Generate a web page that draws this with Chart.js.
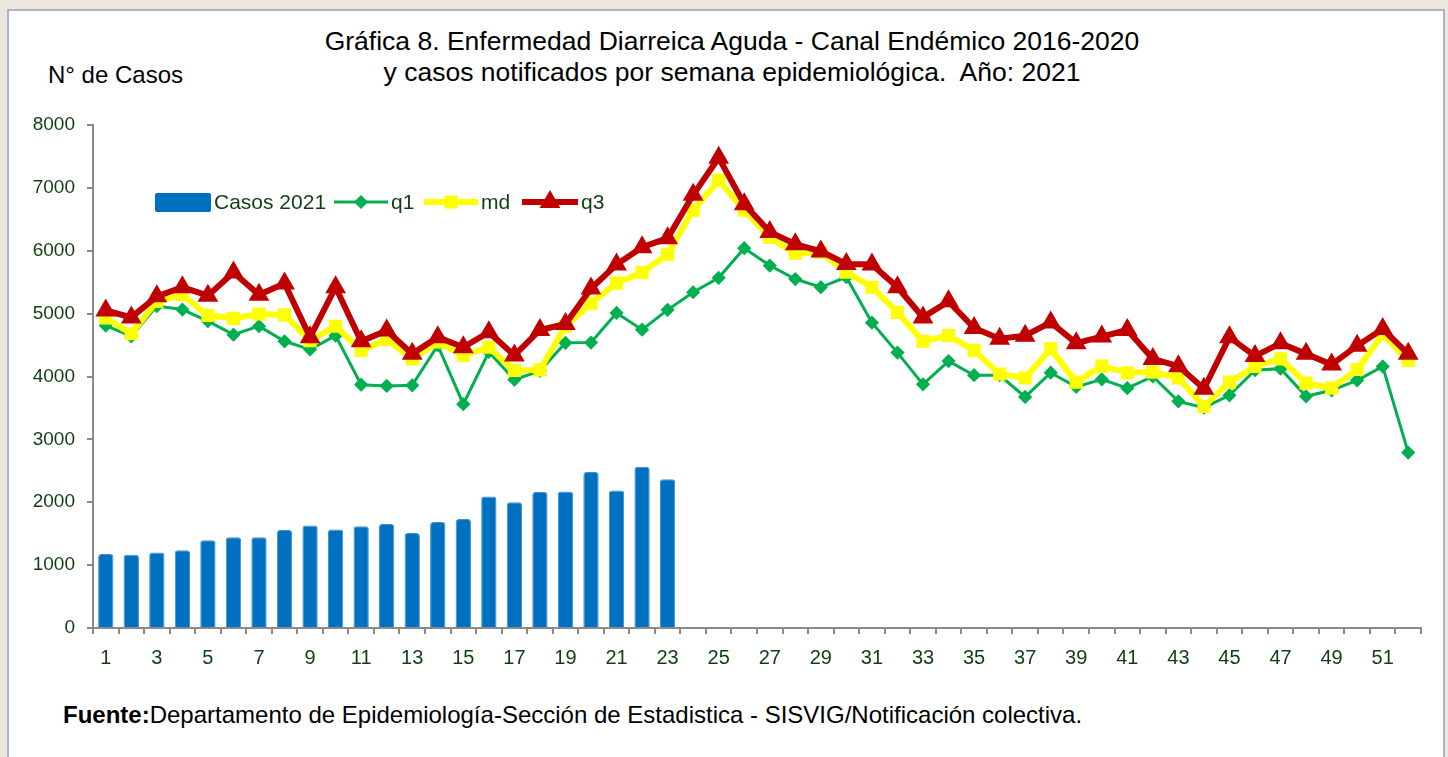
<!DOCTYPE html>
<html>
<head>
<meta charset="utf-8">
<script src="https://cdn.jsdelivr.net/npm/chart.js@4/dist/chart.umd.min.js"></script>
<style>
  body { margin: 0; background: #ebe7de; width: 1448px; height: 757px; overflow: hidden; font-family: "Liberation Sans", Arial, sans-serif; }
  .panel { position: absolute; left: 7px; top: 9px; width: 1434px; height: 760px; background: #fff; border: 2px solid #aeb0c8; }
  #canalChart { position: absolute; left: 0; top: 0; }
  .titulo { position: absolute; left: 0; top: 26px; width: 1464px; text-align: center; font-size: 26.5px; line-height: 31px; color: #000; white-space: pre; }
  .ylabel { position: absolute; left: 48px; top: 61px; font-size: 24px; color: #000; }
  .fuente { position: absolute; left: 63px; top: 701px; font-size: 24px; color: #000; }
</style>
</head>
<body>
<div class="panel"></div>
<div class="titulo">Gráfica 8. Enfermedad Diarreica Aguda - Canal Endémico 2016-2020
y casos notificados por semana epidemiológica.  Año: 2021</div>
<div class="ylabel">N° de Casos</div>
<div class="fuente"><b>Fuente:</b>Departamento de Epidemiología-Sección de Estadistica - SISVIG/Notificación colectiva.</div>
<canvas id="canalChart" width="1448" height="757"></canvas>
<script>
const semanas = [];
for (let i = 1; i <= 52; i++) semanas.push(String(i));

const casos2021 = [1175, 1165, 1200, 1235, 1395, 1445, 1445, 1560, 1630, 1565,
  1620, 1655, 1510, 1685, 1735, 2090, 2000, 2165, 2170, 2480,
  2185, 2565, 2365];

const q1 = [4810, 4640, 5120, 5065, 4880, 4665, 4800, 4560, 4430, 4650,
  3870, 3850, 3860, 4495, 3560, 4390, 3950, 4090, 4535, 4540,
  5010, 4745, 5060, 5340, 5570, 6040, 5765, 5550, 5420, 5580,
  4855, 4380, 3875, 4245, 4020, 4020, 3675, 4060, 3835, 3955,
  3815, 4000, 3605, 3505, 3700, 4100, 4125, 3685, 3780, 3940, 4160, 2790];

const md = [4930, 4680, 5195, 5300, 4970, 4925, 4995, 4980, 4570, 4800,
  4415, 4590, 4280, 4550, 4335, 4465, 4095, 4105, 4800, 5165,
  5485, 5655, 5945, 6645, 7120, 6645, 6210, 5960, 5975, 5660,
  5420, 5020, 4560, 4650, 4415, 4040, 3975, 4440, 3910, 4165,
  4060, 4070, 3975, 3525, 3910, 4160, 4280, 3895, 3815, 4110, 4675, 4255];

const q3 = [5050, 4940, 5275, 5420, 5285, 5655, 5300, 5480, 4625, 5420,
  4560, 4730, 4360, 4625, 4465, 4705, 4335, 4740, 4835, 5400,
  5780, 6055, 6200, 6890, 7480, 6740, 6300, 6105, 5990, 5790,
  5780, 5420, 4940, 5195, 4770, 4600, 4650, 4860, 4530, 4635,
  4740, 4280, 4165, 3805, 4625, 4325, 4530, 4360, 4190, 4490, 4755, 4360];

const yTicks = [0, 1000, 2000, 3000, 4000, 5000, 6000, 7000, 8000];

const verde = '#0f3f10';
const gris = '#8a8a8a';

// legend drawn inside the plot, like the excel one
const legendInside = {
  id: 'legendInside',
  afterDraw(chart) {
    const ctx = chart.ctx;
    const ds = chart.data.datasets;
    const y = 202;
    ctx.save();
    ctx.font = '21px "Liberation Sans", Arial, sans-serif';
    ctx.textBaseline = 'middle';
    ctx.fillStyle = ds[0].backgroundColor;
    ctx.beginPath();
    ctx.roundRect(155, 193, 56, 19, 2);
    ctx.fill();
    ctx.fillStyle = verde;
    ctx.fillText(ds[0].label, 214, y + 1);

    const items = [[1, 334, 388], [2, 424, 478], [3, 522, 578]];
    items.forEach(([i, x0, x1]) => {
      const d = ds[i];
      ctx.strokeStyle = d.borderColor;
      ctx.lineWidth = d.borderWidth;
      ctx.beginPath();
      ctx.moveTo(x0, y);
      ctx.lineTo(x1, y);
      ctx.stroke();
      ctx.fillStyle = d.pointBackgroundColor;
      ctx.strokeStyle = d.pointBorderColor;
      Chart.helpers.drawPoint(ctx, { pointStyle: d.pointStyle, radius: d.pointRadius, rotation: 0, borderWidth: 1 }, (x0 + x1) / 2, y);
      ctx.fillStyle = verde;
      ctx.fillText(d.label, x1 + 3, y + 1);
    });
    ctx.restore();
  }
};

const canal = new Chart(document.getElementById('canalChart').getContext('2d'), {
  type: 'bar',
  data: {
    labels: semanas,
    datasets: [{
      type: 'bar',
      label: 'Casos 2021',
      data: casos2021,
      backgroundColor: '#0070c0',
      borderColor: '#3d8fd0',
      borderWidth: 1,
      borderRadius: 3,
      categoryPercentage: 1,
      barPercentage: 0.6,
      order: 4
    }, {
      type: 'line',
      label: 'q1',
      data: q1,
      borderColor: '#00b050',
      borderWidth: 3,
      pointStyle: 'rectRot',
      pointRadius: 5,
      pointBackgroundColor: '#00b050',
      pointBorderColor: '#00b050',
      tension: 0,
      order: 3
    }, {
      type: 'line',
      label: 'md',
      data: md,
      borderColor: '#ffff00',
      borderWidth: 6,
      pointStyle: 'rect',
      pointRadius: 5,
      pointBackgroundColor: '#ffff00',
      pointBorderColor: '#ffff00',
      tension: 0,
      order: 2
    }, {
      type: 'line',
      label: 'q3',
      data: q3,
      borderColor: '#c00000',
      borderWidth: 6,
      pointStyle: 'triangle',
      pointRadius: 6,
      pointBackgroundColor: '#c00000',
      pointBorderColor: '#c00000',
      tension: 0,
      order: 1
    }]
  },
  options: {
    responsive: false,
    animation: false,
    layout: { padding: { left: 0, right: 27, top: 125, bottom: 0 } },
    plugins: {
      legend: { display: false },
      tooltip: { enabled: false },
      title: { display: false }
    },
    scales: {
      x: {
        offset: true,
        grid: { offset: true, drawOnChartArea: false, tickLength: 6, color: gris, lineWidth: 2 },
        border: { color: gris, width: 2 },
        ticks: {
          color: verde,
          font: { family: '"Liberation Sans", Arial, sans-serif', size: 20 },
          maxRotation: 0,
          autoSkip: false,
          padding: 12,
          callback: (v, i) => (i % 2 === 0 ? semanas[i] : '')
        },
        afterFit: (scale) => { scale.height = 757 - 628; }
      },
      y: {
        min: 0,
        max: 8000,
        grid: { drawOnChartArea: false, tickLength: 6, color: gris, lineWidth: 2 },
        border: { color: gris, width: 2 },
        ticks: {
          stepSize: 1000,
          color: verde,
          padding: 12,
          font: { family: '"Liberation Sans", Arial, sans-serif', size: 19 },
          callback: (v) => (yTicks.includes(v) ? String(v) : '')
        },
        afterFit: (scale) => { scale.width = 93; }
      }
    }
  },
  plugins: [legendInside]
});
</script>
</body>
</html>
